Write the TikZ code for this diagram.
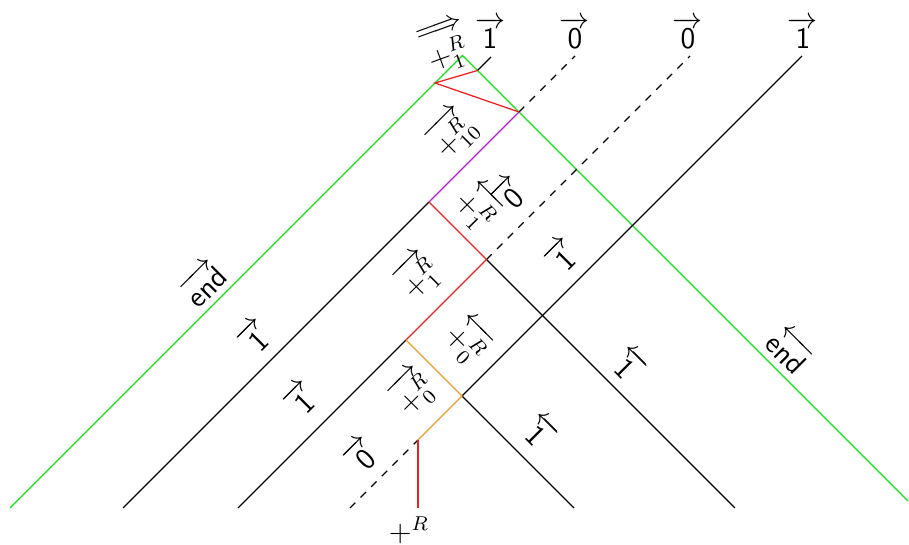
\documentclass[tikz,border=0pt]{standalone}
\usepackage{amsmath}
\definecolor{sgreen}{RGB}{20,225,20}
\definecolor{sred}{RGB}{240,30,30}
\definecolor{smag}{RGB}{180,30,200}
\definecolor{sorange}{RGB}{235,160,40}
\begin{document}
\begin{tikzpicture}[x=0.4pt,y=-0.4pt,
  sig/.style={line width=0.5pt},
  dsig/.style={line width=0.5pt,dashed},
  lbl/.style={inner sep=1pt,font=\large}]
\useasboundingbox (0,0) rectangle (909,545);
% key points
\coordinate (G) at (462.5,55.5);
\coordinate (GL) at (10,508);
\coordinate (GR) at (908,501);
\coordinate (P1) at (429,202);
\coordinate (P2) at (519,112);
\coordinate (P3) at (486.5,259.5);
\coordinate (P4) at (406,340);
\coordinate (P5) at (462,396);
\coordinate (P6) at (418,440);
\coordinate (P7) at (418,508);
\coordinate (Q1) at (435,83);
\coordinate (Q2) at (477.5,70.5);
\coordinate (B1) at (123,508);
\coordinate (B2) at (238,508);
\coordinate (B3) at (350,508);
\coordinate (B4) at (735,508);
\coordinate (B5) at (574,508);
\coordinate (T0) at (491,57);
\coordinate (T1) at (575,56);
\coordinate (T2) at (690,56);
\coordinate (T3) at (802,56);
% green
\draw[sig,sgreen] (GL) -- (G) -- (GR);
% black / dashed lines
\draw[sig] (B1) -- (P1);
\draw[sig] (B2) -- (P4);
\draw[dsig] (B3) -- (P6);
\draw[sig] (P5) -- (T3);
\draw[dsig] (P3) -- (T2);
\draw[dsig] (P2) -- (T1);
\draw[sig] (Q2) -- (T0);
\draw[sig] (P3) -- (B4);
\draw[sig] (P5) -- (B5);
% coloured segments
\draw[sig,smag] (P1) -- (P2);
\draw[sig,sred] (P4) -- (P3) -- (P1);
\draw[sig,sred] (P2) -- (Q1) -- (Q2);
\draw[sig,sorange] (P4) -- (P5) -- (P6);
\draw[sig,sred] (P6) -- (P7);
% top labels
\node[lbl] (t0) at (490,33) {$\overrightarrow{\textsf{1}}$};
\node[lbl] (t1) at (575,33) {$\overrightarrow{\textsf{0}}$};
\node[lbl] (t2) at (688,33) {$\overrightarrow{\textsf{0}}$};
\node[lbl] (t3) at (803,33) {$\overrightarrow{\textsf{1}}$};
% rotated labels
\node[lbl,rotate=45] (endl) at (203,283) {$\overrightarrow{\textsf{end}}$};
\node[lbl,rotate=-45] (endr) at (790,350) {$\overleftarrow{\textsf{end}}$};
\node[lbl,rotate=45] (la) at (255,337) {$\overrightarrow{\textsf{1}}$};
\node[lbl,rotate=45] (lb) at (301,399) {$\overrightarrow{\textsf{1}}$};
\node[lbl,rotate=45] (lc) at (362,455) {$\overrightarrow{\textsf{0}}$};
\node[lbl,rotate=45] (ld) at (562,256) {$\overrightarrow{\textsf{1}}$};
\node[lbl,rotate=45] (le) at (510,194) {$\overrightarrow{\textsf{0}}$};
\node[lbl,rotate=-45] (lf) at (629,365) {$\overleftarrow{\textsf{1}}$};
\node[lbl,rotate=-45] (lg) at (540,432) {$\overleftarrow{\textsf{1}}$};
\node[lbl,rotate=45] (lh) at (413,392) {$\overrightarrow{+^R_0}$};
\node[lbl,rotate=-45] (li) at (468,341) {$\overleftarrow{+^R_0}$};
\node[lbl,rotate=45] (lj) at (418,276) {$\overrightarrow{+^R_1}$};
\node[lbl,rotate=-45] (lk) at (478,207) {$\overleftarrow{+^R_1}$};
\node[lbl,rotate=45] (ll) at (452,134) {$\overrightarrow{+^R_{10}}$};
\node[lbl,rotate=20] (lm) at (445,46) {$\overset{\textstyle\Longrightarrow}{+^R_1}$};
\node[lbl] (ln) at (409,530) {$+^R$};
\end{tikzpicture}
\end{document}
